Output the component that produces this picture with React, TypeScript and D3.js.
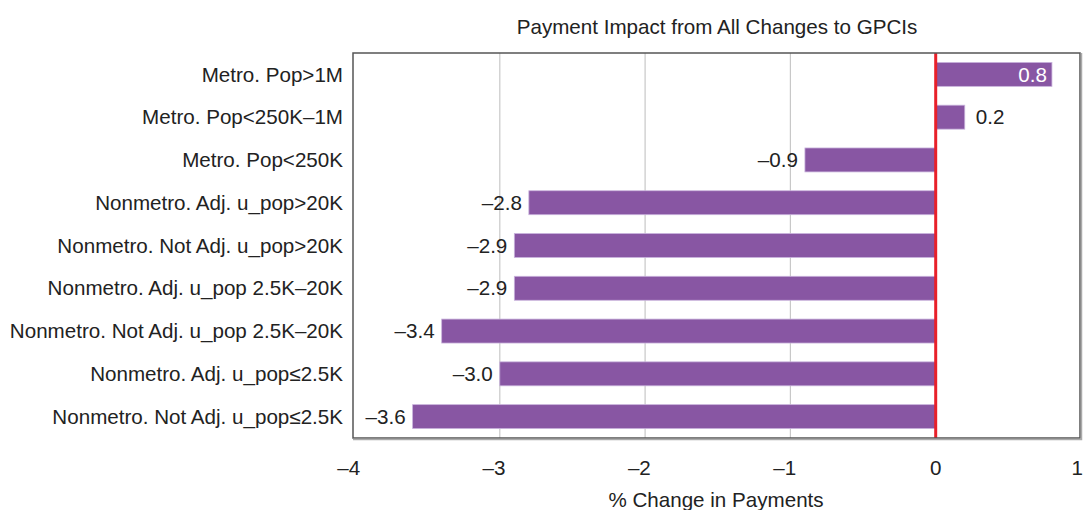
import * as d3 from 'd3';

const categories = [
  'Metro. Pop>1M',
  'Metro. Pop<250K–1M',
  'Metro. Pop<250K',
  'Nonmetro. Adj. u_pop>20K',
  'Nonmetro. Not Adj. u_pop>20K',
  'Nonmetro. Adj. u_pop 2.5K–20K',
  'Nonmetro. Not Adj. u_pop 2.5K–20K',
  'Nonmetro. Adj. u_pop≤2.5K',
  'Nonmetro. Not Adj. u_pop≤2.5K',
];
const values = [0.8, 0.2, -0.9, -2.8, -2.9, -2.9, -3.4, -3.0, -3.6];
const xTicks = [-4, -3, -2, -1, 0, 1];
const gridTicks = [-3, -2, -1];

const W = 1084;
const H = 510;
const FONT = '"Liberation Sans", Arial, Helvetica, sans-serif';
const FS = 20.6;
const INK = '#222';
const BAR = '#8856a3';

const fmt = (v: number) => (v < 0 ? '–' : '') + Math.abs(v).toFixed(1);
const fmtTick = (v: number) => (v < 0 ? '–' : '') + Math.abs(v);

export default function App() {
  const frame = { left: 353, right: 1080, top: 53, bottom: 438 };
  const x = d3.scaleLinear().domain([-4, 1]).range([354.5, 1081]);
  const y = d3
    .scaleBand<string>()
    .domain(categories)
    .range([frame.top, frame.bottom])
    .paddingInner(0.44)
    .paddingOuter(0.22);

  return (
    <svg
      width={W}
      height={H}
      viewBox={`0 0 ${W} ${H}`}
      style={{ position: 'absolute', left: 0, top: 0, background: '#fff' }}
      fontFamily={FONT}
    >
      <text x={717} y={34} textAnchor="middle" fontSize={FS} fill={INK}>
        Payment Impact from All Changes to GPCIs
      </text>

      {/* frame */}
      <rect x={frame.left} y={frame.top} width={frame.right - frame.left} height={frame.bottom - frame.top} fill="#fff" />
      {gridTicks.map((t) => (
        <line key={t} x1={x(t)} x2={x(t)} y1={frame.top} y2={frame.bottom} stroke="#c8c8c8" strokeWidth={1.2} />
      ))}

      {categories.map((c, i) => {
        const v = values[i];
        const y0 = y(c) ?? 0;
        const bh = y.bandwidth();
        const x0 = x(Math.min(0, v));
        const x1 = x(Math.max(0, v));
        const cy = y0 + bh / 2;
        const inside = v >= 0.5;
        const lx = v < 0 ? x0 - 7 : inside ? x1 - 5 : x1 + 11;
        const anchor = v < 0 || inside ? 'end' : 'start';
        return (
          <g key={c}>
            <rect x={x0} y={y0} width={x1 - x0} height={bh} fill={BAR} stroke="#c9b3dc" strokeWidth={0.8} />
            <text x={lx} y={cy} dy="0.35em" textAnchor={anchor} fontSize={FS} fill={inside ? '#fff' : INK}>
              {fmt(v)}
            </text>
            <text x={343} y={cy} dy="0.35em" textAnchor="end" fontSize={FS} fill={INK}>
              {c}
            </text>
          </g>
        );
      })}

      <line x1={x(0)} x2={x(0)} y1={frame.top} y2={frame.bottom} stroke="#e8202a" strokeWidth={3} />

      <rect
        x={frame.left}
        y={frame.top}
        width={frame.right - frame.left}
        height={frame.bottom - frame.top}
        fill="none"
        stroke="#555"
        strokeWidth={1.5}
      />
      <polyline
        points={`${frame.left},${frame.bottom + 1.5} ${frame.right + 1.5},${frame.bottom + 1.5} ${frame.right + 1.5},${frame.top}`}
        fill="none"
        stroke="#aaa"
        strokeWidth={1.5}
      />

      {xTicks.map((t) => (
        <text key={t} x={Math.min(x(t) + 5.7, W - 1)} y={475} textAnchor="end" fontSize={FS} fill={INK}>
          {fmtTick(t)}
        </text>
      ))}

      <text x={716} y={507} textAnchor="middle" fontSize={FS} fill={INK}>
        % Change in Payments
      </text>
    </svg>
  );
}
